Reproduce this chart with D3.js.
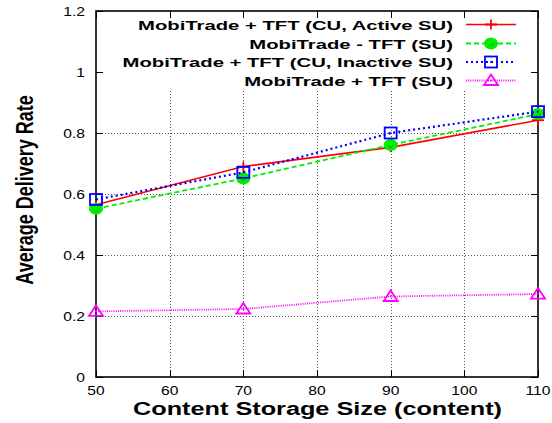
<!DOCTYPE html>
<html>
<head>
<meta charset="utf-8">
<script src="https://cdn.jsdelivr.net/npm/d3@7"></script>
<style>
  html, body { margin: 0; padding: 0; background: #fff; }
  svg { display: block; font-family: "Liberation Sans", Arial, Helvetica, sans-serif; }
</style>
</head>
<body>
<svg id="chart" width="552" height="423"></svg>
<script>
// Content storage sizes on the x axis
const storageSizes = [50, 70, 90, 110];

// Average delivery rate for each configuration
const activeSU   = [0.565, 0.690, 0.753, 0.842];
const tftSU      = [0.552, 0.651, 0.761, 0.862];
const inactiveSU = [0.582, 0.671, 0.800, 0.870];
const plainSU    = [0.215, 0.223, 0.264, 0.272];

const seriesNames = [
  "MobiTrade + TFT (CU, Active SU)",
  "MobiTrade - TFT (SU)",
  "MobiTrade + TFT (CU, Inactive SU)",
  "MobiTrade + TFT (SU)"
];

const xTicks = [50, 60, 70, 80, 90, 100, 110];
const yTicks = [0, 0.2, 0.4, 0.6, 0.8, 1, 1.2];

const xTitle = "Content Storage Size (content)";
const yTitle = "Average Delivery Rate";

const series = [
  { name: seriesNames[0], values: activeSU,   color: "#ff0000", dash: null,    width: 1.6, marker: "plus" },
  { name: seriesNames[1], values: tftSU,      color: "#00ee00", dash: "5,3",   width: 1.8, marker: "circle" },
  { name: seriesNames[2], values: inactiveSU, color: "#0000ff", dash: "2,3",   width: 2.2, marker: "square" },
  { name: seriesNames[3], values: plainSU,    color: "#ff00ff", dash: "1,1.2", width: 1.8, marker: "triangle" }
];

const svg = d3.select("#chart");
const plot = { left: 96, right: 538, top: 11, bottom: 377 };

const x = d3.scaleLinear().domain([50, 110]).range([plot.left, plot.right]);
const y = d3.scaleLinear().domain([0, 1.2]).range([plot.bottom, plot.top]);

// Text stretched horizontally, as in the original postscript output
function stretched(parent, px, py, str, o) {
  const g = parent.append("g")
    .attr("transform", `translate(${px},${py}) scale(${o.sx || 1},1)` + (o.rotate ? ` rotate(${o.rotate})` : ""));
  return g.append("text")
    .attr("text-anchor", o.anchor || "start")
    .attr("font-size", o.size)
    .attr("font-weight", o.weight || "normal")
    .attr("fill", "#000")
    .text(str);
}

// Grid: dotted lines, kept clear of the key area
const grid = svg.append("g").attr("stroke", "#555").attr("stroke-width", 1).attr("stroke-dasharray", "1,2");
[0.2, 0.4, 0.6, 0.8].forEach(v => {
  grid.append("line").attr("x1", plot.left).attr("x2", plot.right)
    .attr("y1", Math.round(y(v)) + 0.5).attr("y2", Math.round(y(v)) + 0.5);
});
[60, 70, 80, 90, 100].forEach(v => {
  grid.append("line").attr("x1", Math.round(x(v)) + 0.5).attr("x2", Math.round(x(v)) + 0.5)
    .attr("y1", 91).attr("y2", plot.bottom);
});

// Axes with inward ticks on all four sides
const tickLen = 7;
const axisG = svg.append("g").attr("stroke", "#000").attr("stroke-width", 1);
xTicks.forEach(v => {
  const xx = Math.round(x(v)) + 0.5;
  axisG.append("line").attr("x1", xx).attr("x2", xx).attr("y1", plot.bottom).attr("y2", plot.bottom - tickLen);
  axisG.append("line").attr("x1", xx).attr("x2", xx).attr("y1", plot.top).attr("y2", plot.top + tickLen);
});
yTicks.forEach(v => {
  const yy = Math.round(y(v)) + 0.5;
  axisG.append("line").attr("x1", plot.left).attr("x2", plot.left + tickLen).attr("y1", yy).attr("y2", yy);
  axisG.append("line").attr("x1", plot.right).attr("x2", plot.right - tickLen).attr("y1", yy).attr("y2", yy);
});
svg.append("rect")
  .attr("x", plot.left).attr("y", plot.top)
  .attr("width", plot.right - plot.left).attr("height", plot.bottom - plot.top)
  .attr("fill", "none").attr("stroke", "#000").attr("stroke-width", 1.6);

// Tick labels
const tickFmt = d3.format("");
yTicks.forEach(v => {
  stretched(svg, 85, y(v) + 4.5, tickFmt(v), { size: 12.5, anchor: "end", sx: 1.25 });
});
xTicks.forEach(v => {
  stretched(svg, x(v), 395, tickFmt(v), { size: 12.5, anchor: "middle", sx: 1.25 });
});

// Axis titles
svg.append("text")
  .attr("x", (plot.left + plot.right) / 2 + 0.5).attr("y", 415)
  .attr("text-anchor", "middle").attr("font-size", 18).attr("font-weight", "bold")
  .attr("textLength", 369).attr("lengthAdjust", "spacingAndGlyphs")
  .text(xTitle);
stretched(svg, 33, 190, yTitle, { size: 18, weight: "bold", anchor: "middle", sx: 1.3, rotate: -90 });

// Marker shapes (slightly wider than tall)
function drawMarker(g, cx, cy, s) {
  const m = g.append("g").attr("transform", `translate(${cx},${cy})`);
  if (s.marker === "plus") {
    m.append("path").attr("d", "M-6,0H6M0,-5V5").attr("stroke", s.color).attr("stroke-width", 1.8).attr("fill", "none");
  } else if (s.marker === "circle") {
    m.append("ellipse").attr("rx", 7).attr("ry", 6).attr("fill", s.color);
    m.append("path").attr("d", "M-2,0.5A2,2 0 1,0 1.5,-1").attr("stroke", "#0a8a0a").attr("stroke-width", 0.8).attr("fill", "none");
  } else if (s.marker === "square") {
    m.append("rect").attr("x", -6).attr("y", -5.5).attr("width", 12).attr("height", 11)
      .attr("fill", "none").attr("stroke", s.color).attr("stroke-width", 1.8);
    m.append("rect").attr("x", -0.8).attr("y", -0.8).attr("width", 1.6).attr("height", 1.6).attr("fill", s.color);
  } else if (s.marker === "triangle") {
    m.append("path").attr("d", "M0,-6L7,4.5H-7Z").attr("fill", "none").attr("stroke", s.color).attr("stroke-width", 1.8);
    m.append("rect").attr("x", -0.8).attr("y", -0.8).attr("width", 1.6).attr("height", 1.6).attr("fill", s.color);
  }
}

// Data lines and markers
const line = d3.line().x((d, i) => x(storageSizes[i])).y(d => y(d));
series.forEach(s => {
  svg.append("path").datum(s.values)
    .attr("d", line)
    .attr("fill", "none").attr("stroke", s.color)
    .attr("stroke-width", s.width)
    .attr("stroke-dasharray", s.dash);
  const mg = svg.append("g");
  s.values.forEach((v, i) => drawMarker(mg, x(storageSizes[i]), y(v), s));
});

// Key (top right, labels right-aligned)
const key = svg.append("g");
const keyBaselines = [29.5, 48.5, 67, 85.5];
const keyRight = 453;
const labels = series.map((s, i) =>
  key.append("text")
    .attr("x", keyRight).attr("y", keyBaselines[i])
    .attr("text-anchor", "end").attr("font-size", 13.5).attr("font-weight", "bold")
    .text(s.name));
// Stretch all key labels by the same horizontal factor
const natural0 = labels[0].node().getComputedTextLength();
const keyScale = 315 / natural0;
labels.forEach(t => {
  const w = t.node().getComputedTextLength();
  t.attr("textLength", w * keyScale).attr("lengthAdjust", "spacingAndGlyphs");
});
series.forEach((s, i) => {
  const cy = keyBaselines[i] - 5;
  key.append("line").attr("x1", 466).attr("x2", 516).attr("y1", cy).attr("y2", cy)
    .attr("stroke", s.color).attr("stroke-width", s.width).attr("stroke-dasharray", s.dash);
  drawMarker(key, 491, cy, s);
});
</script>
</body>
</html>
